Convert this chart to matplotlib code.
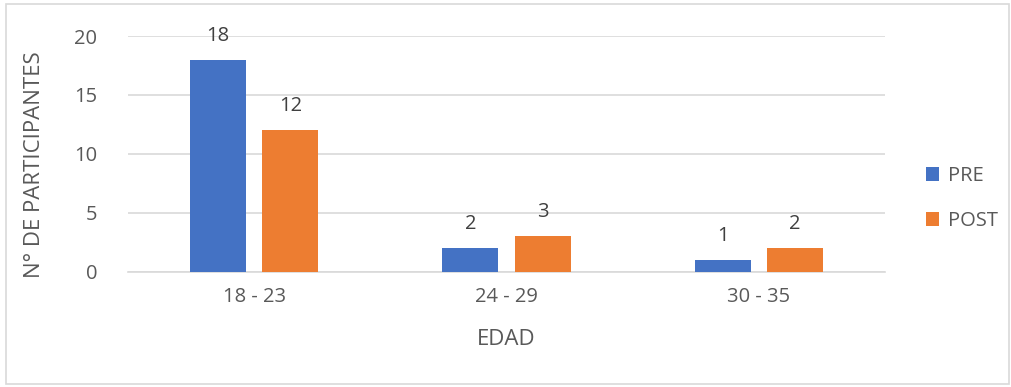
import numpy as np
import matplotlib.pyplot as plt

plt.rcParams['font.family'] = ['Open Sans', 'DejaVu Sans']

# datos
edades = ['18 - 23', '24 - 29', '30 - 35']
pre = [18, 2, 1]
post = [12, 3, 2]
series = ['PRE', 'POST']

azul = '#4472C4'
naranja = '#ED7D31'
gris_txt = '#595959'

fig = plt.figure(figsize=(10.11, 3.87), dpi=100)
ax = fig.add_axes([128 / 1011, 1 - 271.5 / 387, 757 / 1011, 235.5 / 387])

x = np.arange(len(edades))
w = 0.222
off = 0.143
b1 = ax.bar(x - off, pre, w, color=azul, label=series[0], zorder=3)
b2 = ax.bar(x + off, post, w, color=naranja, label=series[1], zorder=3)

for bars in (b1, b2):
    for r in bars:
        ax.annotate(str(int(r.get_height())), (r.get_x() + r.get_width() / 2, r.get_height()),
                    xytext=(0, 10), textcoords='offset points', ha='center', va='bottom',
                    fontsize=14.5, color='#404040')

ax.set_xlim(-0.5, 2.5)
ax.set_ylim(0, 20)
ax.set_yticks([0, 5, 10, 15, 20])
ax.set_xticks(x)
ax.set_xticklabels(edades)
ax.tick_params(axis='both', length=0, labelsize=14.5, labelcolor=gris_txt)
ax.tick_params(axis='x', pad=11)
ax.tick_params(axis='y', pad=22)
ax.yaxis.grid(True, color='#d9d9d9', linewidth=1.2, zorder=0)
for s in ['top', 'right', 'left']:
    ax.spines[s].set_visible(False)
ax.spines['bottom'].set_color('#d9d9d9')
ax.spines['bottom'].set_linewidth(1.2)

ax.set_xlabel('EDAD', fontsize=16, color=gris_txt, labelpad=16)
ax.set_ylabel('N° DE PARTICIPANTES', fontsize=16, color=gris_txt)
ax.yaxis.set_label_coords(-0.109, 0.455)

ax.legend(loc='center left', bbox_to_anchor=(1.03, 0.31), frameon=False, fontsize=14.5,
          handlelength=0.65, handleheight=0.65, labelspacing=1.25, handletextpad=0.45,
          labelcolor=gris_txt)

# borde del grafico
fig.patches.append(plt.Rectangle((6 / 1011, 3 / 387), 1003 / 1011, 380 / 387, transform=fig.transFigure,
                                 fill=False, edgecolor='#d9d9d9', linewidth=1.2))

fig.savefig('out.png', dpi=100)
